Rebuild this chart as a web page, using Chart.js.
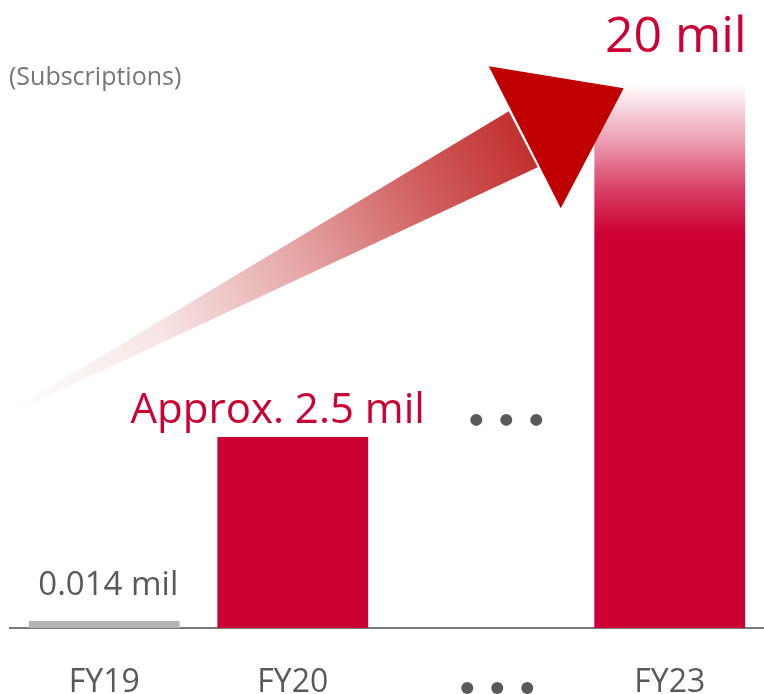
<!DOCTYPE html>
<html>
<head>
<meta charset="utf-8">
<script src="https://cdn.jsdelivr.net/npm/chart.js@4.4.1/dist/chart.umd.min.js"></script>
<style>
  body { margin: 0; background: #fff; }
  #wrap { width: 764px; height: 694px; }
</style>
</head>
<body>
<div id="wrap"><canvas id="subsChart" width="764" height="694"></canvas></div>
<script>
// categories on the x axis ("" is the "..." gap between FY20 and FY23)
const categories = ["FY19", "FY20", "", "FY23"];
// subscriptions (millions) as written on the chart
const subscriptions = [0.014, 2.5, null, 20];
const valueLabels = ["0.014 mil", "Approx. 2.5 mil", "", "20 mil"];
// bar heights as drawn in the picture (the original is not to scale)
const drawnHeights = [0.26, 7.03, null, 20];

const FONT = "'Open Sans', 'Noto Sans', sans-serif";
const RED = "#cc0033";
const GREY_TEXT = "#595959";

function barColor(ctx) {
  const i = ctx.dataIndex;
  if (i === 0) return "#b4b4b4";
  if (i === 3) {
    const chart = ctx.chart;
    if (!chart.chartArea) return RED;
    const y = chart.scales.y;
    const top = y.getPixelForValue(drawnHeights[3]);
    const g = chart.ctx.createLinearGradient(0, top, 0, top + 150);
    g.addColorStop(0, "rgba(204,0,51,0.0)");
    g.addColorStop(0.35, "rgba(204,0,51,0.35)");
    g.addColorStop(0.7, "rgba(204,0,51,0.75)");
    g.addColorStop(1, "rgba(204,0,51,1)");
    return g;
  }
  return RED;
}

// arrow, value labels, "..." markers and the unit note
const decorations = {
  id: "decorations",
  afterDatasetsDraw(chart) {
    const { ctx, chartArea } = chart;
    const meta = chart.getDatasetMeta(0);
    const bars = meta.data;
    const fy23 = bars[3];
    const bx = fy23.x, by = fy23.y;

    // rising arrow
    const tailX = chartArea.left - 5, tailY = chartArea.bottom - 213;
    ctx.save();
    const sg = ctx.createLinearGradient(tailX, tailY, bx - 140, by + 55);
    sg.addColorStop(0, "rgba(192,40,40,0)");
    sg.addColorStop(0.3, "rgba(192,40,40,0.12)");
    sg.addColorStop(0.55, "rgba(192,40,40,0.4)");
    sg.addColorStop(0.8, "rgba(192,40,40,0.75)");
    sg.addColorStop(1, "rgba(192,40,40,0.97)");
    ctx.fillStyle = sg;
    ctx.beginPath();
    ctx.moveTo(tailX, tailY - 1);
    ctx.lineTo(bx - 161, by + 27);
    ctx.lineTo(bx - 132, by + 83);
    ctx.lineTo(tailX, tailY + 1);
    ctx.closePath();
    ctx.fill();
    ctx.fillStyle = "#c00000";
    ctx.beginPath();
    ctx.moveTo(bx - 181, by - 18);
    ctx.lineTo(bx - 46, by + 4);
    ctx.lineTo(bx - 109, by + 124);
    ctx.closePath();
    ctx.fill();

    // value labels
    ctx.textAlign = "center";
    ctx.textBaseline = "alphabetic";
    ctx.fillStyle = GREY_TEXT;
    ctx.font = "33px " + FONT;
    ctx.fillText(valueLabels[0], bars[0].x + 4, bars[0].y - 26);
    ctx.fillStyle = RED;
    ctx.font = "42px " + FONT;
    ctx.fillText(valueLabels[1], bars[1].x - 15, bars[1].y - 14);
    ctx.font = "50px " + FONT;
    ctx.fillText(valueLabels[3], bx + 6, by - 32);

    // "..." in the gap, above the axis and among the tick labels
    const gap = chart.scales.x.getPixelForValue(2);
    ctx.fillStyle = GREY_TEXT;
    for (let k = -1; k <= 1; k++) {
      ctx.beginPath();
      ctx.arc(gap + 25 + k * 30, bars[1].y - 17, 6, 0, Math.PI * 2);
      ctx.fill();
      ctx.beginPath();
      ctx.arc(gap + 16 + k * 30, chartArea.bottom + 60, 6, 0, Math.PI * 2);
      ctx.fill();
    }

    // unit note
    ctx.textAlign = "left";
    ctx.fillStyle = "#767676";
    ctx.font = "25px " + FONT;
    ctx.fillText("(Subscriptions)", 9, 85);
    ctx.restore();
  }
};

new Chart(document.getElementById("subsChart"), {
  type: "bar",
  data: {
    labels: categories,
    datasets: [
      {
        label: "Subscriptions",
        data: drawnHeights,
        backgroundColor: barColor,
        borderWidth: 0,
        categoryPercentage: 1,
        barPercentage: 0.8,
      },
    ],
  },
  options: {
    responsive: false,
    animation: false,
    layout: {
      padding: { left: 10, right: 0, top: 0, bottom: 0 },
    },
    plugins: {
      legend: { display: false },
      tooltip: { enabled: false },
    },
    scales: {
      x: {
        grid: { display: false },
        border: { display: true, color: "#7a7a7a", width: 2 },
        ticks: {
          color: GREY_TEXT,
          font: { family: FONT, size: 32 },
          padding: 28,
        },
        afterFit(scale) {
          scale.height = 66;
        },
      },
      y: {
        display: false,
        min: 0,
        max: 23.1,
      },
    },
  },
  plugins: [decorations],
});
</script>
</body>
</html>
